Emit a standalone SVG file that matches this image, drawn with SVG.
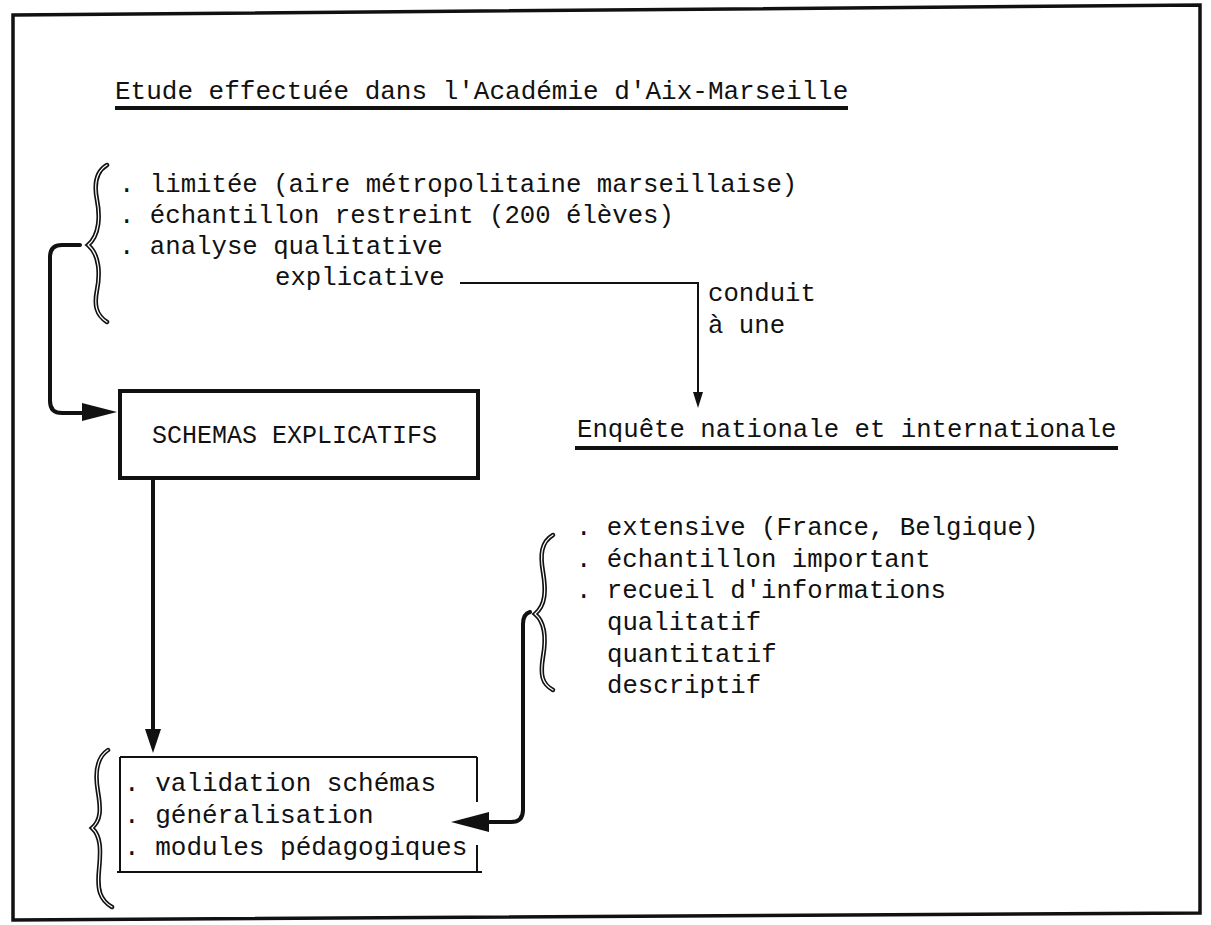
<svg xmlns="http://www.w3.org/2000/svg" width="1211" height="925" viewBox="0 0 1211 925">
<style>
text{font-family:"Liberation Mono","Courier New",monospace;fill:#111;font-size:25.7px}
.t26{font-size:26px}
.t25{font-size:25px}
.thin{stroke:#111;stroke-width:2;fill:none}
.thick{stroke:#111;stroke-width:4;fill:none;stroke-linejoin:round;stroke-linecap:round}
.ul{stroke:#111;stroke-width:4}
.brace{fill:none;stroke:#111;stroke-width:4.5;stroke-linecap:round}
.brace-in{fill:none;stroke:#fff;stroke-width:1.2;stroke-linecap:round}
.head{fill:#111}
</style>
<rect width="1211" height="925" fill="#fff"/>
<g id="frame">
<polygon points="13,15 1200,5 1200,913 13,920" fill="none" stroke="#111" stroke-width="3.5"/>
</g>
<g id="title">
<text class="t26" x="115" y="99">Etude effectuée dans l'Académie d'Aix-Marseille</text>
<line class="ul" x1="115" y1="108" x2="848" y2="108"/>
</g>
<g id="etude-list">
<path class="brace" d="M107,165 C95,172 94,185 97,200 C100,215 100,235 88,245 C100,255 100,275 97,290 C94,305 96,315 107,322"/>
<path class="brace-in" d="M107,165 C95,172 94,185 97,200 C100,215 100,235 88,245 C100,255 100,275 97,290 C94,305 96,315 107,322"/>
<text x="119" y="192">. limitée (aire métropolitaine marseillaise)</text>
<text x="119" y="223">. échantillon restreint (200 élèves)</text>
<text x="119" y="254">. analyse qualitative</text>
<text x="275" y="285">explicative</text>
</g>
<g id="schemas">
<rect x="120" y="391" width="358" height="87" fill="none" stroke="#111" stroke-width="4"/>
<text class="t25" x="152" y="443">SCHEMAS EXPLICATIFS</text>
</g>
<g id="enquete">
<text x="577" y="437">Enquête nationale et internationale</text>
<line class="ul" x1="575" y1="448" x2="1118" y2="448"/>
</g>
<g id="enquete-list">
<path class="brace" d="M553,535 C541,542 540,555 543,572 C546,590 546,605 535,614 C546,623 546,640 543,657 C540,675 542,684 553,690"/>
<path class="brace-in" d="M553,535 C541,542 540,555 543,572 C546,590 546,605 535,614 C546,623 546,640 543,657 C540,675 542,684 553,690"/>
<text x="576" y="535">. extensive (France, Belgique)</text>
<text x="576" y="567">. échantillon important</text>
<text x="576" y="598">. recueil d'informations</text>
<text x="607" y="630">qualitatif</text>
<text x="607" y="662">quantitatif</text>
<text x="607" y="693">descriptif</text>
</g>
<g id="results">
<path class="brace" d="M108,750 C96,758 95,775 98,792 C101,810 101,820 92,828 C101,836 101,850 99,870 C97,890 100,900 112,907"/>
<path class="brace-in" d="M108,750 C96,758 95,775 98,792 C101,810 101,820 92,828 C101,836 101,850 99,870 C97,890 100,900 112,907"/>
<path class="thin" d="M120,757 H477 M120,757 V872 M117,872 H482 M477,757 V802 M477,845 V872"/>
<text class="t26" x="124" y="791">. validation schémas</text>
<text class="t26" x="124" y="823">. généralisation</text>
<text class="t26" x="124" y="855">. modules pédagogiques</text>
</g>
<g id="connectors">
<path class="thin" d="M460,283 H698 V396"/>
<polygon class="head" points="693,392 703,392 698,408"/>
<text x="708" y="301">conduit</text>
<text x="708" y="333">à une</text>
<path class="thick" d="M80,245 H62 Q50,245 50,257 V401 Q50,413 62,413 H86"/>
<polygon class="head" points="82,403 117,412 82,421"/>
<line class="thick" x1="153" y1="478" x2="153" y2="733"/>
<polygon class="head" points="145,729 161,729 153,753"/>
<path class="thick" d="M530,612 Q523,614 523,624 V810 Q523,822 511,822 H486"/>
<polygon class="head" points="489,812 451,822 489,832"/>
</g>
</svg>
